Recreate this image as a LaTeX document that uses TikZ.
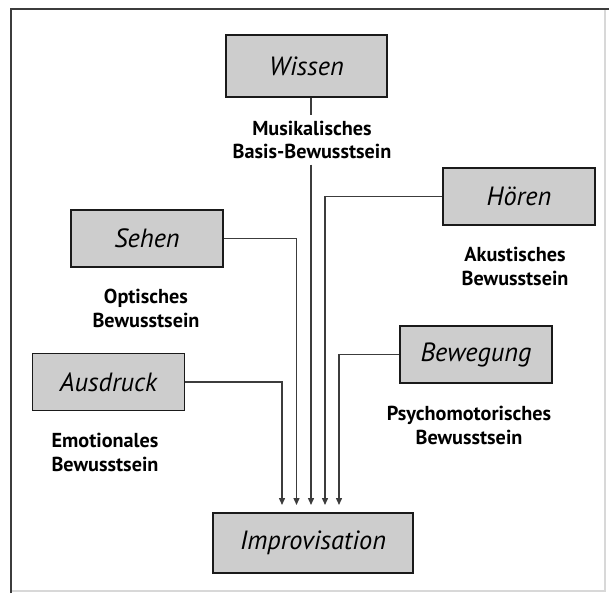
\documentclass[tikz,border=0pt]{standalone}
\usepackage{fontspec}
\setmainfont{PT Sans}
\usetikzlibrary{arrows.meta,positioning}
\definecolor{boxfill}{HTML}{CDCDCD}
\definecolor{ink}{HTML}{1A1A1A}
\definecolor{linegray}{HTML}{3C3C3C}
\definecolor{framelt}{HTML}{D8D8D8}
\tikzset{
  >={Triangle[length=1.4mm,width=1.2mm]},
  sensebox/.style={draw=ink, fill=boxfill, line width=1.1pt, inner sep=0pt,
                   minimum width=30.4mm, minimum height=11.4mm,
                   font=\itshape\fontsize{15}{18}\selectfont, text=black},
  aware/.style={font=\bfseries\fontsize{11.5}{13.6}\selectfont, text=black, align=center,
                inner sep=1mm},
  arr/.style={->, draw=linegray, line width=0.8pt},
}
\begin{document}
\begin{tikzpicture}[x=0.2mm, y=-0.2mm]
\useasboundingbox (0,0) rectangle (609,593);

% frame
\draw[framelt, line width=0.8pt] (605,9) -- (605,591) -- (11,591);
\draw[linegray, line width=1.1pt] (11,593) -- (11,9) -- (609,9);

% boxes
\node[sensebox, minimum width=32.2mm, minimum height=12.4mm] (wissen) at (306.5,66) {Wissen};
\node[sensebox] (sehen)    at (147,238.5) {Sehen};
\node[sensebox] (ausdruck) at (108.5,382) {Ausdruck};
\node[sensebox] (hoeren)   at (519,196.5) {Hören};
\node[sensebox] (bewegung) at (476,354.5) {Bewegung};
\node[sensebox, minimum width=40mm, minimum height=12mm] (impro) at (313,543) {Improvisation};

% labels
\node[aware] (wissenlbl) at (312,140) {Musikalisches\\Basis-Bewusstsein};
\node[aware, below=3.1mm of sehen, xshift=-0.2mm] (sehenlbl) {Optisches\\Bewusstsein};
\node[aware, below=3.2mm of ausdruck, xshift=-0.7mm] (ausdrucklbl) {Emotionales\\Bewusstsein};
\node[aware, below=3.2mm of hoeren, xshift=-0.8mm] (hoerenlbl) {Akustisches\\Bewusstsein};
\node[aware, below=3.4mm of bewegung, xshift=-1.4mm] (bewegunglbl) {Psychomotorisches\\Bewusstsein};

% arrow ends above Improvisation
\coordinate (e1) at (282,505);
\coordinate (e2) at (296.5,505);
\coordinate (e3) at (311,505);
\coordinate (e4) at (325,505);
\coordinate (e5) at (339,505);

\draw[arr] (ausdruck.east) -| (e1);
\draw[arr] (sehen.east) -| (e2);
\draw[linegray, line width=0.8pt] (wissen.south -| e3) -- (wissenlbl.north -| e3);
\draw[arr] (wissenlbl.south -| e3) -- (e3);
\draw[arr] (hoeren.west) -| (e4);
\draw[arr] (bewegung.west) -| (e5);

\end{tikzpicture}
\end{document}
